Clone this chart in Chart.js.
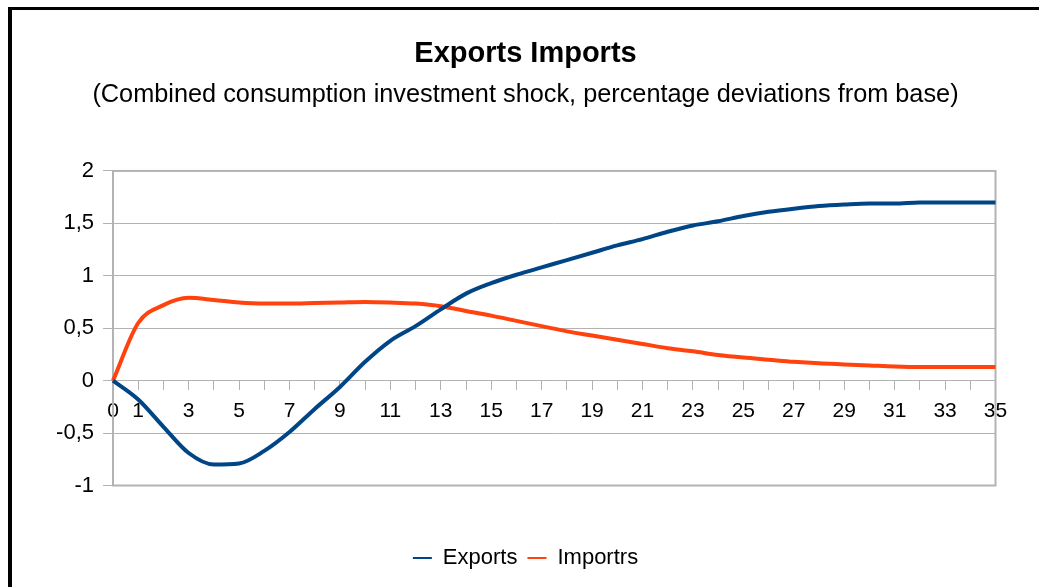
<!DOCTYPE html>
<html>
<head>
<meta charset="utf-8">
<script src="https://cdn.jsdelivr.net/npm/chart.js@4"></script>
<style>
  html, body { margin: 0; padding: 0; background: #fff; }
  #wrap { position: relative; width: 1039px; height: 587px; overflow: hidden; }
  #frame { position: absolute; left: 8px; top: 7px; width: 1100px; height: 700px;
           border-left: 4px solid #000; border-top: 3px solid #000; }
  #box { position: absolute; left: 0; top: 0; width: 1039px; height: 587px; }
</style>
</head>
<body>
<div id="wrap">
  <div id="frame"></div>
  <div id="box"><canvas id="c"></canvas></div>
</div>
<script>
// ---- data ----
const periods = ["0","1","2","3","4","5","6","7","8","9","10","11","12","13","14","15","16","17",
                 "18","19","20","21","22","23","24","25","26","27","28","29","30","31","32","33","34","35"];
const exportsSeries = [0, -0.18, -0.44, -0.69, -0.80, -0.79, -0.67, -0.49, -0.27, -0.06, 0.18, 0.38,
                       0.52, 0.68, 0.83, 0.93, 1.01, 1.08, 1.15, 1.22, 1.29, 1.35, 1.42, 1.48,
                       1.52, 1.57, 1.61, 1.64, 1.665, 1.68, 1.69, 1.69, 1.70, 1.70, 1.70, 1.70];
const importsSeries = [0, 0.55, 0.72, 0.79, 0.77, 0.745, 0.735, 0.735, 0.74, 0.745, 0.75, 0.745,
                       0.735, 0.71, 0.665, 0.62, 0.57, 0.52, 0.47, 0.43, 0.39, 0.35, 0.31, 0.28,
                       0.245, 0.22, 0.20, 0.18, 0.165, 0.155, 0.145, 0.135, 0.13, 0.13, 0.13, 0.13];
const seriesNames = ["Exports", "Importrs"];
const titleText = "Exports Imports";
const subtitleText = "(Combined consumption investment shock, percentage deviations from base)";
const yMin = -1, yMax = 2, yStep = 0.5;

const FONT = "'Liberation Sans', Arial, sans-serif";
const GRID = "#b3b3b3";

const frameBorder = {
  id: 'frameBorder',
  beforeDatasetsDraw(chart) {
    const a = chart.chartArea, ctx = chart.ctx;
    ctx.save();
    ctx.strokeStyle = GRID;
    ctx.lineWidth = 2;
    ctx.strokeRect(a.left, a.top, a.right - a.left, a.bottom - a.top);
    ctx.restore();
  }
};

new Chart(document.getElementById('c'), {
  type: 'line',
  data: {
    labels: periods,
    datasets: [
      { label: seriesNames[0], data: exportsSeries, borderColor: '#004586', backgroundColor: '#004586',
        borderWidth: 4, pointRadius: 0, cubicInterpolationMode: 'monotone', fill: false },
      { label: seriesNames[1], data: importsSeries, borderColor: '#ff420e', backgroundColor: '#ff420e',
        borderWidth: 4, pointRadius: 0, cubicInterpolationMode: 'monotone', fill: false }
    ]
  },
  options: {
    responsive: true,
    maintainAspectRatio: false,
    animation: false,
    events: [],
    layout: { padding: { top: 0, left: 12, right: 0, bottom: 8 } },
    plugins: {
      title: { display: true, text: titleText, color: '#000',
               font: { family: FONT, size: 29, weight: 'bold', lineHeight: 1.2 },
               padding: { top: 36.6, bottom: 8.6 } },
      subtitle: { display: true, text: subtitleText, color: '#000',
                  font: { family: FONT, size: 25.3, weight: 'normal', lineHeight: 1.2 },
                  padding: { top: 0, bottom: 60.6 } },
      legend: {
        position: 'bottom',
        labels: {
          color: '#000', font: { family: FONT, size: 22 },
          usePointStyle: true, pointStyle: 'line', pointStyleWidth: 19, padding: 10,
          generateLabels(chart) {
            const items = Chart.defaults.plugins.legend.labels.generateLabels(chart);
            items.forEach(it => { it.lineWidth = 2; it.pointStyle = 'line'; });
            return items;
          }
        }
      },
      tooltip: { enabled: false }
    },
    scales: {
      x: {
        type: 'category',
        position: { y: 0 },
        offset: false,
        grid: { display: true, drawOnChartArea: false, drawTicks: true, tickLength: 9, color: GRID, lineWidth: 1 },
        border: { display: true, color: GRID, width: 1 },
        ticks: {
          autoSkip: false, maxRotation: 0, minRotation: 0, padding: 9, color: '#000',
          font: { family: FONT, size: 21 },
          callback(value, index) { return (index === 0 || index % 2 === 1) ? periods[index] : ''; }
        }
      },
      xspace: {
        type: 'category', axis: 'x', position: 'bottom', display: true,
        grid: { display: false }, border: { display: false }, ticks: { display: false },
        afterFit(scale) { scale.height = 51.5; }
      },
      y: {
        min: yMin, max: yMax,
        grid: { color: GRID, lineWidth: 1, tickLength: 10, drawTicks: true },
        border: { display: true, color: GRID, width: 1.5 },
        ticks: {
          stepSize: yStep, padding: 9, color: '#000',
          font: { family: FONT, size: 22 },
          callback(v) { return String(Math.round(v * 10) / 10).replace('.', ','); }
        },
        afterFit(scale) { scale.width = 101; }
      },
      yspace: {
        type: 'linear', axis: 'y', position: 'right', display: true,
        grid: { display: false }, border: { display: false }, ticks: { display: false },
        afterFit(scale) { scale.width = 43.5; }
      }
    }
  },
  plugins: [frameBorder]
});
</script>
</body>
</html>
